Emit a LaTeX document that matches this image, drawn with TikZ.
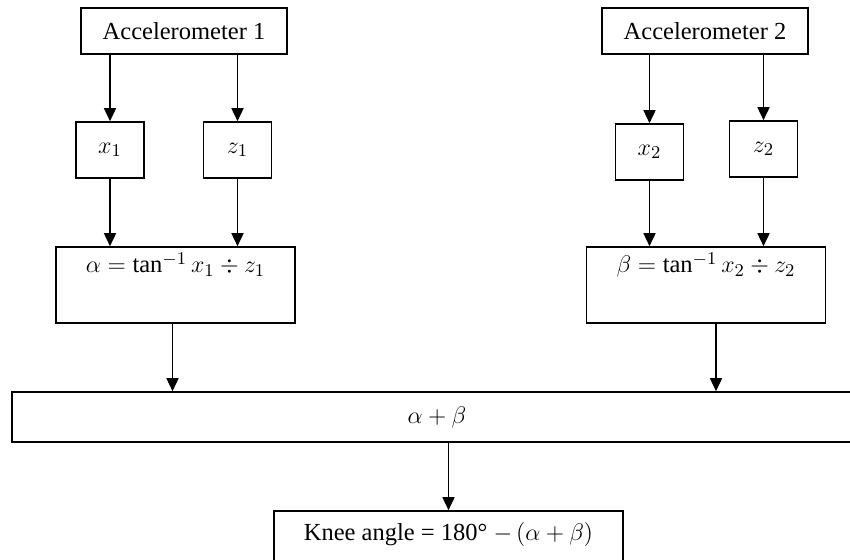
\documentclass[tikz,border=0pt]{standalone}
\usepackage{fontspec}
\setmainfont{Liberation Serif}
\usepackage{tikz}
\usetikzlibrary{positioning, arrows.meta}

\tikzset{
    block/.style={draw, line width=0.8pt, inner sep=0pt, minimum width=103pt, minimum height=23pt},
    axis/.style={block, minimum width=34pt, minimum height=28pt},
    angle/.style={block, minimum width=119.5pt, text height=13pt, text depth=25pt},
    arr/.style={-{Triangle[width=6pt,length=6.5pt]}, line width=0.8pt}
}

\begin{document}
\begin{tikzpicture}[on grid, font=\fontsize{12.25}{15}\selectfont]
        \useasboundingbox (0,0) rectangle (425pt,-280pt);

        \node[block] (acc1) at (92pt,-15.5pt) {Accelerometer 1};
        \node[block] (acc2) [right=260.5pt of acc1] {Accelerometer 2};

        \node[axis] (x1) [below left=59.5pt and 37pt of acc1] {$x_1$};
        \node[axis] (z1) [right=63.75pt of x1] {$z_1$};
        \node[axis] (x2) [below left=60.5pt and 27.75pt of acc2] {$x_2$};
        \node[axis] (z2) [below right=59pt and 29.25pt of acc2] {$z_2$};

        \node[angle] (alpha) [below left=127pt and 4.25pt of acc1] {$\alpha = \tan^{-1} x_1 \div z_1$};
        \node[angle] (beta) [below right=127pt and 0.5pt of acc2] {$\beta = \tan^{-1} x_2 \div z_2$};

        \node[block, minimum width=425pt, minimum height=25pt] (sum) at (218.5pt,-208.5pt) {$\alpha + \beta$};
        \node[block, minimum width=174.5pt, text height=14.5pt, text depth=15.5pt] (knee)
            [below right=62pt and 5.75pt of sum] {Knee angle = 180° $-\,(\alpha + \beta)$};

        % accelerometers to axes
        \draw[arr] (acc1.south -| x1.north) -- (x1.north);
        \draw[arr] (acc1.south -| z1.north) -- (z1.north);
        \draw[arr] (acc2.south -| x2.north) -- (x2.north);
        \draw[arr] (acc2.south -| z2.north) -- (z2.north);

        % axes to angles
        \draw[arr] (x1.south) -- (x1.south |- alpha.north);
        \draw[arr] (z1.south) -- (z1.south |- alpha.north);
        \draw[arr] (x2.south) -- (x2.south |- beta.north);
        \draw[arr] (z2.south) -- (z2.south |- beta.north);

        % angles to sum, sum to knee
        \draw[arr] ([xshift=-1.5pt]alpha.south) -- ([xshift=-1.5pt]alpha.south |- sum.north);
        \draw[arr] ([xshift=5pt]beta.south) -- ([xshift=5pt]beta.south |- sum.north);
        \draw[arr] (knee.north |- sum.south) -- (knee.north);
\end{tikzpicture}
\end{document}
